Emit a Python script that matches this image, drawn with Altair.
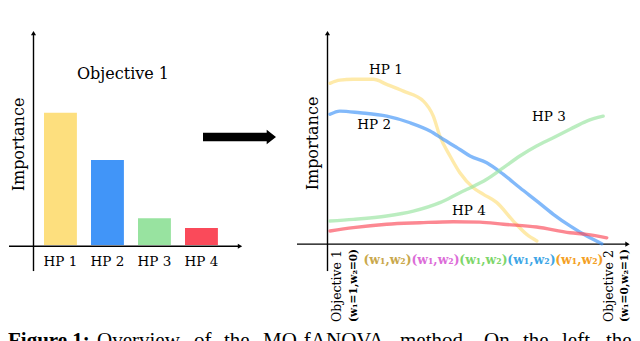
import altair as alt
import pandas as pd

# ---------------- data ----------------
hp_names = ["HP 1", "HP 2", "HP 3", "HP 4"]
bar_importance = [0.624, 0.401, 0.126, 0.080]
bar_colors = ["#FDDF7E", "#4195F8", "#98E3A0", "#FA4A5A"]
line_colors = ["#F9D468", "#4A8FEA", "#66CF66", "#F05A66"]

hp1_w = [0.0, 0.036, 0.085, 0.158, 0.207, 0.268, 0.341, 0.377, 0.401, 0.438, 0.474, 0.523, 0.560, 0.608, 0.669, 0.718, 0.755]
hp1_imp = [0.763, 0.778, 0.782, 0.782, 0.758, 0.726, 0.679, 0.608, 0.514, 0.420, 0.341, 0.270, 0.239, 0.201, 0.113, 0.050, 0.019]
hp2_w = [0.0, 0.036, 0.109, 0.207, 0.292, 0.365, 0.413, 0.474, 0.511, 0.572, 0.633, 0.693, 0.754, 0.815, 0.876, 0.937, 0.992]
hp2_imp = [0.617, 0.632, 0.624, 0.608, 0.577, 0.538, 0.499, 0.451, 0.420, 0.388, 0.333, 0.270, 0.208, 0.145, 0.090, 0.042, 0.006]
hp3_w = [0.0, 0.085, 0.207, 0.304, 0.401, 0.474, 0.511, 0.572, 0.633, 0.693, 0.754, 0.815, 0.876, 0.937, 0.997]
hp3_imp = [0.113, 0.121, 0.137, 0.160, 0.200, 0.247, 0.269, 0.310, 0.365, 0.420, 0.467, 0.506, 0.546, 0.585, 0.608]
hp4_w = [0.0, 0.085, 0.207, 0.328, 0.450, 0.547, 0.633, 0.754, 0.876, 0.937, 1.010]
hp4_imp = [0.066, 0.082, 0.098, 0.105, 0.110, 0.108, 0.098, 0.085, 0.058, 0.050, 0.034]

line_label_w = [0.204, 0.161, 0.799, 0.507]
line_label_imp = [0.825, 0.566, 0.604, 0.160]

weight_w = [0.21, 0.385, 0.56, 0.735, 0.91]
weight_text = "(w\u2081,w\u2082)"
weight_colors = ["#C9A84C", "#DC6CD8", "#7ED66A", "#3FA6E6", "#F4A024"]

end_labels = ["Objective 1", "(w\u2081=1,w\u2082=0)", "Objective 2", "(w\u2081=0,w\u2082=1)"]

caption_words = ["Figure 1:", "Overview", "of", "the", "MO-fANOVA", "method.", "On", "the", "left,", "the"]

# ---------------- layout constants ----------------
FONT = "DejaVu Serif"
YDOM = [0, 1.01]
caption_x = [0, 89, 186, 216, 255, 392, 476, 515, 554, 598]
end_label_x = [8.5, 25.5, 281, 297]


def ys():
    return alt.Scale(domain=YDOM, nice=False, zero=False)


def text_layer(txt, x, y, **kw):
    return alt.Chart(pd.DataFrame({"t": [txt]})).mark_text(**kw).encode(
        text="t:N", x=alt.value(x), y=alt.value(y))


def hrule(yv, x1, x2, sw=1.4):
    return alt.Chart(pd.DataFrame({"a": [yv]})).mark_rule(color="black", strokeWidth=sw).encode(
        x=alt.value(x1), x2=alt.value(x2), y=alt.Y("a:Q", scale=ys(), axis=None))


def vrule(xv, y1, y2, sw=1.4):
    return alt.Chart(pd.DataFrame({"a": [y1], "b": [y2]})).mark_rule(color="black", strokeWidth=sw).encode(
        x=alt.value(xv), y=alt.Y("a:Q", scale=ys(), axis=None), y2="b:Q")


def head(xv, yv, shape):
    return alt.Chart(pd.DataFrame({"a": [yv]})).mark_point(
        shape=shape, filled=True, size=26, color="black", opacity=1).encode(
        x=alt.value(xv), y=alt.Y("a:Q", scale=ys(), axis=None))


# ---------------- left panel ----------------
bars_df = pd.DataFrame({"hp": hp_names, "imp": bar_importance})
bars = alt.Chart(bars_df).mark_bar().encode(
    x=alt.X("hp:N", sort=hp_names,
            scale=alt.Scale(range=[28.95, 216.95], paddingInner=0.3, paddingOuter=0.15),
            axis=alt.Axis(title=None, domain=False, ticks=False, labelAngle=0,
                          labelFont=FONT, labelFontSize=13.5, labelColor="black",
                          labelPadding=9)),
    y=alt.Y("imp:Q", scale=ys(), axis=None),
    color=alt.Color("hp:N", scale=alt.Scale(domain=hp_names, range=bar_colors), legend=None),
)

arrow_path = "M-1,-0.118L0.745,-0.118L0.745,-0.2L1,0L0.745,0.2L0.745,0.118L-1,0.118Z"
big_arrow = alt.Chart(pd.DataFrame({"a": [0]})).mark_point(
    shape=arrow_path, filled=True, size=5329, color="black", opacity=1, strokeWidth=0).encode(
    x=alt.value(231.5), y=alt.value(106))

left_layers = [
    bars,
    hrule(-0.006, 1, 232),
    vrule(25.5, 1.0, -0.123),
    head(25.5, 1.0, "triangle-up"),
    head(232, -0.006, "triangle-right"),
    text_layer("Objective 1", 115, 42.5, font=FONT, fontSize=16, align="center", baseline="middle", color="black"),
    text_layer("Importance", 11, 113.5, font=FONT, fontSize=16, angle=270, align="center", baseline="middle", color="black"),
    big_arrow,
]
for i, w in enumerate(caption_words):
    left_layers.append(text_layer(
        w, caption_x[i], 316, font="Liberation Serif", fontSize=21, align="left",
        baseline="alphabetic", color="black", fontWeight="bold" if i == 0 else "normal"))

left = alt.layer(*left_layers).properties(width=240, height=214)

# ---------------- right panel ----------------
rows = []
for name, ws, ims in zip(hp_names, [hp1_w, hp2_w, hp3_w, hp4_w], [hp1_imp, hp2_imp, hp3_imp, hp4_imp]):
    for k, (w, v) in enumerate(zip(ws, ims)):
        rows.append({"hp": name, "w": w, "imp": v, "o": k})
lines_df = pd.DataFrame(rows)

XS = alt.Scale(domain=[0, 1], range=[2, 276], nice=False, zero=False)

lines = alt.Chart(lines_df).mark_line(
    strokeWidth=3.4, opacity=0.66, interpolate="monotone", strokeCap="round", strokeJoin="round").encode(
    x=alt.X("w:Q", scale=XS, axis=None),
    y=alt.Y("imp:Q", scale=ys(), axis=None),
    color=alt.Color("hp:N", scale=alt.Scale(domain=hp_names, range=line_colors), legend=None),
    order="o:Q",
    detail="hp:N",
)

labels_df = pd.DataFrame({"hp": hp_names, "w": line_label_w, "imp": line_label_imp})
line_labels = alt.Chart(labels_df).mark_text(
    font=FONT, fontSize=13.5, color="black", align="center", baseline="middle").encode(
    x=alt.X("w:Q", scale=XS, axis=None),
    y=alt.Y("imp:Q", scale=ys(), axis=None),
    text="hp:N",
)

right_layers = [
    hrule(0.004, -31, 300),
    vrule(-0.5, 1.0, -0.123),
    head(-0.5, 1.0, "triangle-up"),
    head(299.5, 0.004, "triangle-right"),
    lines,
    line_labels,
    text_layer("Importance", -15, 112.5, font=FONT, fontSize=16, angle=270, align="center", baseline="middle", color="black"),
]
for i, w in enumerate(weight_w):
    right_layers.append(
        alt.Chart(pd.DataFrame({"w": [w], "t": [weight_text]})).mark_text(
            font=FONT, fontSize=12.4, fontWeight="bold", color=weight_colors[i],
            align="center", baseline="middle").encode(
            x=alt.X("w:Q", scale=XS, axis=None), y=alt.value(229), text="t:N"))
for i, t in enumerate(end_labels):
    is_formula = t.startswith("(")
    right_layers.append(text_layer(
        t, end_label_x[i], 291, font=FONT, fontSize=10.5 if is_formula else 12.5,
        fontWeight="bold" if is_formula else "normal",
        angle=270, align="left", baseline="middle", color="black"))

right = alt.layer(*right_layers).properties(width=300, height=214)

chart = alt.hconcat(left, right, spacing=80, bounds="flush").properties(
    padding={"left": 0, "top": 22, "right": 0, "bottom": 0},
    background="white",
).configure_view(stroke=None)

chart.save("out.html", embed_options={"renderer": "svg", "actions": False})
